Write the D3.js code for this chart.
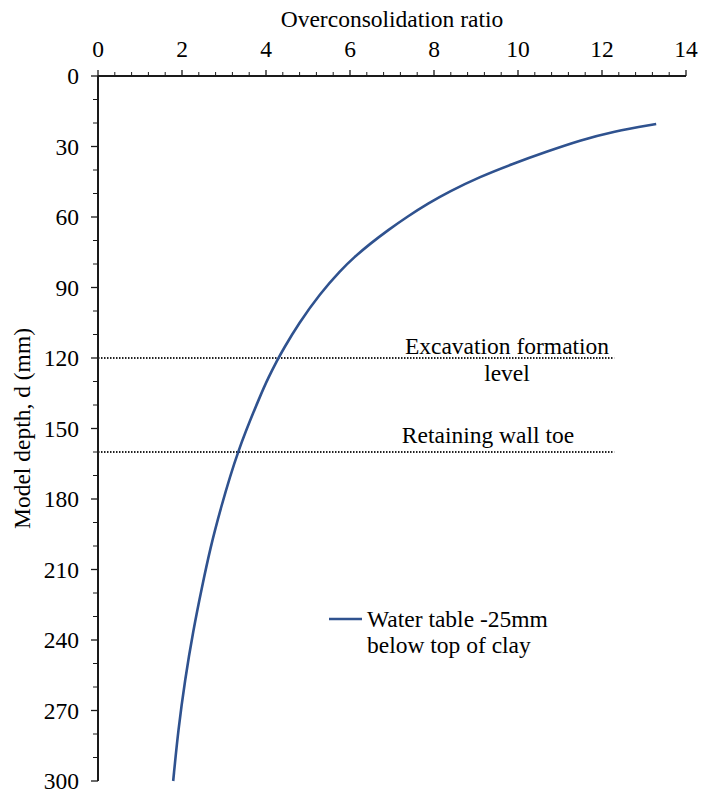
<!DOCTYPE html>
<html>
<head>
<meta charset="utf-8">
<script src="https://cdn.jsdelivr.net/npm/d3@7"></script>
<style>
html,body{margin:0;padding:0;background:#fff;}
</style>
</head>
<body>
<svg id="chart" width="703" height="794"></svg>
<script>
// Data
const depths = [20.4, 23.6, 27.4, 32.2, 37.4, 42.9, 49.2, 54.2, 59.9, 65.5, 71.5, 77.1, 82.6, 92.5, 105.2, 116.6, 120.9, 128.6, 134.9, 160, 184.7, 200.4, 217.9, 235.7, 257, 278.3, 300];
const ocr    = [13.29, 12.26, 11.48, 10.68, 9.87, 9.09, 8.36, 7.86, 7.36, 6.91, 6.47, 6.10, 5.78, 5.29, 4.78, 4.40, 4.27, 4.05, 3.89, 3.31, 2.91, 2.68, 2.47, 2.27, 2.07, 1.91, 1.79];
const xTicks = [0, 2, 4, 6, 8, 10, 12, 14];
const yTicks = [0, 30, 60, 90, 120, 150, 180, 210, 240, 270, 300];
const refDepths = [120, 160];
const refLabels = [["Excavation formation", "level"], ["Retaining wall toe"]];
const seriesName = ["Water table -25mm", "below top of clay"];
const xTitle = "Overconsolidation ratio";
const yTitle = "Model depth, d (mm)";

const FONT = "'Liberation Serif', 'Times New Roman', Tinos, serif";
const svg = d3.select("#chart").attr("font-family", FONT);
const fs = 23.5;
const x = d3.scaleLinear().domain([0, 14]).range([98, 686]);
const y = d3.scaleLinear().domain([0, 300]).range([76, 781]);
const axisColor = "#1a1a1a";

// Minor ticks
const xMinor = d3.range(0, 14.001, 0.4).filter(v => Math.abs(v / 2 - Math.round(v / 2)) > 1e-6);
const yMinor = d3.range(0, 300.001, 10).filter(v => v % 30 !== 0);

const gx = svg.append("g");
gx.selectAll("line.minor").data(xMinor).join("line")
  .attr("x1", d => x(d)).attr("x2", d => x(d))
  .attr("y1", y(0)).attr("y2", y(0) - 4)
  .attr("stroke", axisColor).attr("stroke-width", 1);
gx.selectAll("line.major").data(xTicks).join("line")
  .attr("x1", d => x(d)).attr("x2", d => x(d))
  .attr("y1", y(0)).attr("y2", y(0) - 6)
  .attr("stroke", axisColor).attr("stroke-width", 1.3);
gx.selectAll("text").data(xTicks).join("text")
  .attr("x", d => x(d)).attr("y", 57)
  .attr("text-anchor", "middle").attr("font-size", fs)
  .text(d => d);

const gy = svg.append("g");
gy.selectAll("line.minor").data(yMinor).join("line")
  .attr("x1", x(0)).attr("x2", x(0) - 5)
  .attr("y1", d => y(d)).attr("y2", d => y(d))
  .attr("stroke", axisColor).attr("stroke-width", 1);
gy.selectAll("line.major").data(yTicks).join("line")
  .attr("x1", x(0)).attr("x2", x(0) - 7)
  .attr("y1", d => y(d)).attr("y2", d => y(d))
  .attr("stroke", axisColor).attr("stroke-width", 1.3);
gy.selectAll("text").data(yTicks).join("text")
  .attr("x", 79).attr("y", d => y(d) + 8)
  .attr("text-anchor", "end").attr("font-size", fs)
  .text(d => d);

// Axis lines
svg.append("line").attr("x1", x(0)).attr("x2", x(14)).attr("y1", y(0)).attr("y2", y(0))
  .attr("stroke", axisColor).attr("stroke-width", 2);
svg.append("line").attr("x1", x(0)).attr("x2", x(0)).attr("y1", y(0)).attr("y2", y(300))
  .attr("stroke", axisColor).attr("stroke-width", 2);

// Axis titles
svg.append("text").attr("x", (x(0) + x(14)) / 2).attr("y", 27)
  .attr("text-anchor", "middle").attr("font-size", fs).text(xTitle);
svg.append("text")
  .attr("transform", `translate(30,${(y(0) + y(300)) / 2}) rotate(-90)`)
  .attr("text-anchor", "middle").attr("font-size", fs).text(yTitle);

// Reference lines
svg.selectAll("line.ref").data(refDepths).join("line")
  .attr("x1", x(0)).attr("x2", x(12.29))
  .attr("y1", d => y(d)).attr("y2", d => y(d))
  .attr("stroke", "#222").attr("stroke-width", 1.8)
  .attr("stroke-dasharray", "1.5,1.5");

const refLab = svg.append("g");
refLab.append("text").attr("x", 507).attr("y", y(refDepths[0]) - 4)
  .attr("text-anchor", "middle").attr("font-size", fs).text(refLabels[0][0]);
refLab.append("text").attr("x", 507).attr("y", y(refDepths[0]) + 23)
  .attr("text-anchor", "middle").attr("font-size", fs).text(refLabels[0][1]);
refLab.append("text").attr("x", 488).attr("y", y(refDepths[1]) - 9)
  .attr("text-anchor", "middle").attr("font-size", fs).text(refLabels[1][0]);

// Curve
const pts = depths.map((d, i) => [ocr[i], d]);
const line = d3.line().x(d => x(d[0])).y(d => y(d[1])).curve(d3.curveBasis);
svg.append("path").datum(pts).attr("d", line)
  .attr("fill", "none").attr("stroke", "#2F528F").attr("stroke-width", 2.6)
  .attr("stroke-linecap", "butt");

// Legend
svg.append("line").attr("x1", 329).attr("x2", 362).attr("y1", 619).attr("y2", 619)
  .attr("stroke", "#2F528F").attr("stroke-width", 2.6);
svg.append("text").attr("x", 367).attr("y", 627).attr("font-size", fs).text(seriesName[0]);
svg.append("text").attr("x", 367).attr("y", 653).attr("font-size", fs).text(seriesName[1]);
</script>
</body>
</html>
